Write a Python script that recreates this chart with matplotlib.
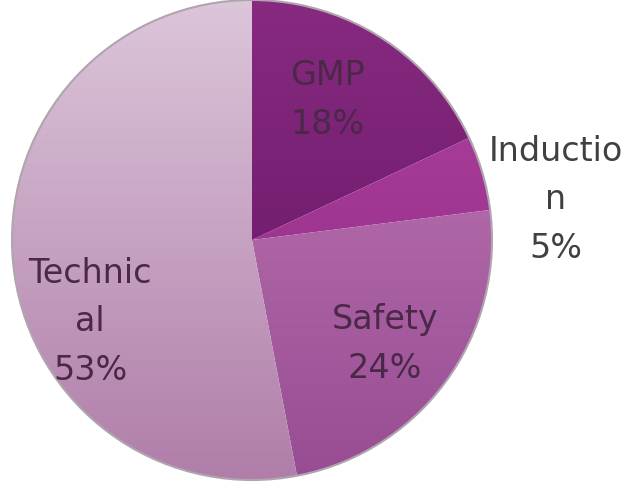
import numpy as np
import matplotlib.pyplot as plt
from matplotlib.colors import LinearSegmentedColormap

labels = ["GMP", "Induction", "Safety", "Technical"]
shares = [18, 5, 24, 53]
label_text = ["GMP\n18%", "Inductio\nn\n5%", "Safety\n24%", "Technic\nal\n53%"]

# gradient colours per slice (top of pie -> bottom of pie)
tops = ["#872a80", "#b2449f", "#c07cb8", "#dcc6da"]
bottoms = ["#611361", "#8a2682", "#984c92", "#b07ea9"]

W, H = 627, 489
fig = plt.figure(figsize=(W / 100, H / 100), dpi=100)
ax = fig.add_axes([0, 0, 1, 1])

cx, cy, r = 252, H - 241, 240

wedges, _ = ax.pie(shares, startangle=90, counterclock=False, center=(cx, cy),
                   radius=r, frame=True,
                   wedgeprops=dict(linewidth=0, edgecolor="none"))
ax.set_xlim(0, W)
ax.set_ylim(0, H)
ax.set_aspect("equal")
ax.axis("off")

grad = np.linspace(1, 0, 256).reshape(-1, 1)
for w, t, b in zip(wedges, tops, bottoms):
    w.set_facecolor("none")
    cmap = LinearSegmentedColormap.from_list("g", [b, t])
    im = ax.imshow(grad, cmap=cmap, aspect="auto",
                   extent=(cx - r, cx + r, cy - r, cy + r), origin="upper", zorder=1)
    im.set_clip_path(w)

# soft outer edge
circ = plt.Circle((cx, cy), r, fill=False, edgecolor="#b0a4ae", linewidth=1.5, zorder=2)
ax.add_patch(circ)

font = "DejaVu Sans"
pos = [(327, 100), (556, 200), (385, 344), (90, 322)]
colors = ["#4a2848", "#404040", "#4a2848", "#4a2848"]
for txt, (x, y), c in zip(label_text, pos, colors):
    ax.text(x, H - y, txt, ha="center", va="center", fontsize=24, family=font,
            color=c, linespacing=1.6, zorder=3)

fig.savefig("out.png", dpi=100)
